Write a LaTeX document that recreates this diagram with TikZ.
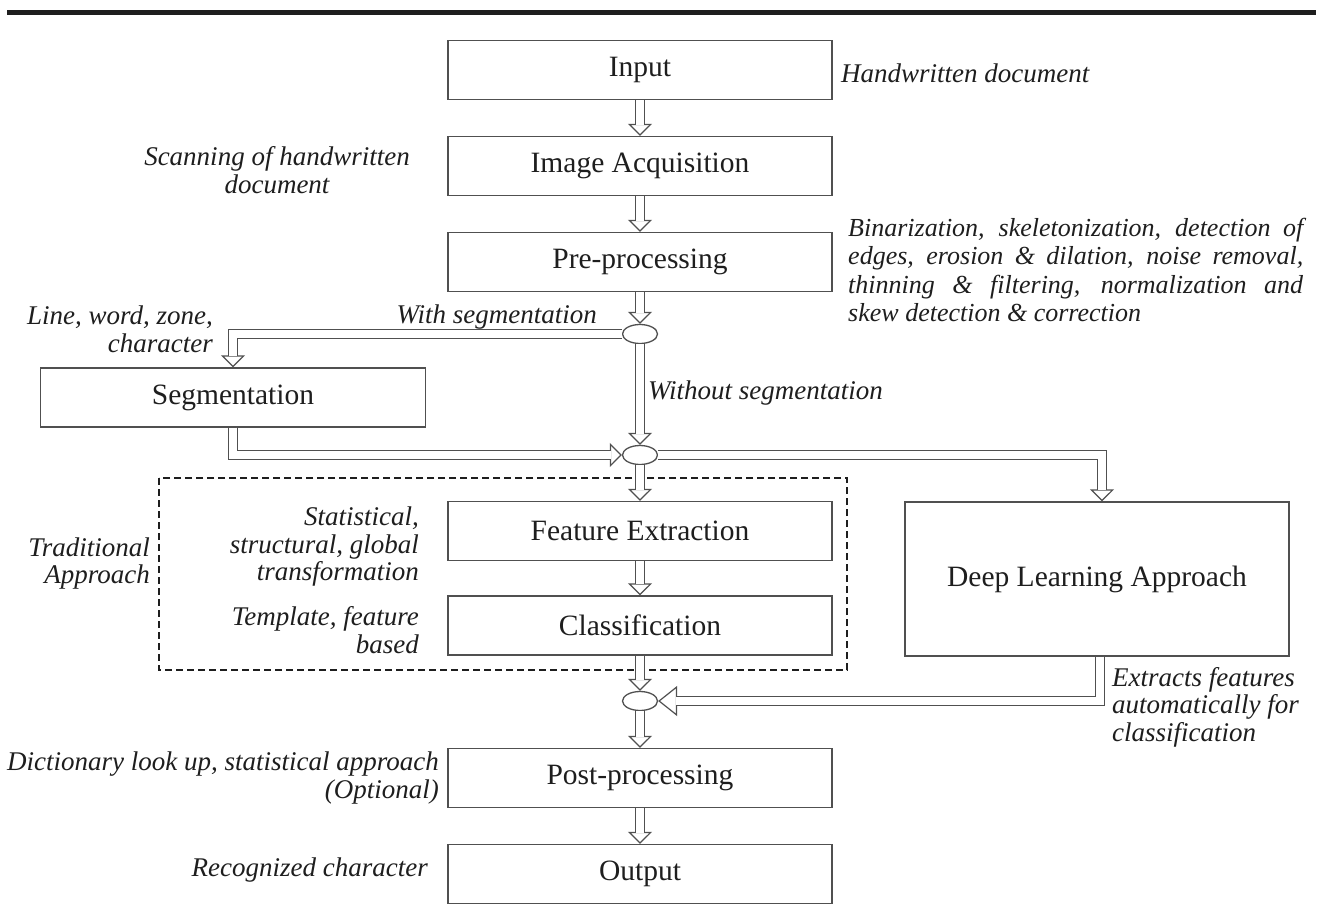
\documentclass[tikz,border=0pt]{standalone}
\usepackage{fontspec}
\setmainfont{Liberation Serif}
\usepackage{tikz}
\usetikzlibrary{arrows.meta, shapes.geometric}

\definecolor{edgegray}{HTML}{505050}
\definecolor{inkgray}{HTML}{1E1E1E}

\begin{document}
\begin{tikzpicture}[x=1pt, y=-1pt,
    box/.style={draw=edgegray, line width=1.3pt, minimum width=384pt, minimum height=59pt, text=inkgray, font=\fontsize{29.5}{34}\selectfont},
    note/.style={text=inkgray, font=\fontsize{27}{27.5}\selectfont\itshape, inner sep=0pt},
    junction/.style={draw=edgegray, fill=white, line width=1.3pt, ellipse, minimum width=35pt, minimum height=19pt, inner sep=0pt},
    shaft/.style={draw=edgegray, -, double=white, double distance=7.5pt, shorten >=#1},
    flow/.style={draw=edgegray, line width=1.2pt, -{Triangle[length=12pt, width=24pt, fill=white]}, postaction={shaft=11pt}},
    bigflow/.style={draw=edgegray, line width=1.2pt, -{Triangle[length=19pt, width=30pt, fill=white]}, postaction={shaft=18pt}}
  ]
    % Canvas
    \fill[white] (0,0) rectangle (1321,904);
    \useasboundingbox (0,0) rectangle (1321,904);

    % Top rule
    \draw[line width=5.5pt, inkgray] (7,12.5) -- (1316,12.5);

    % Draw process boxes
    \node[box] (input) at (640,70) {Input};
    \node[box] (acq) at (640,166) {Image Acquisition};
    \node[box] (pre) at (640,262) {Pre-processing};
    \node[box, minimum width=385pt] (seg) at (233,397.5) {Segmentation};
    \node[box] (feat) at (640,531) {Feature Extraction};
    \node[box] (cls) at (640,625.5) {Classification};
    \node[box, minimum height=154pt] (deep) at (1097,579) {Deep Learning Approach};
    \node[box] (post) at (640,778) {Post-processing};
    \node[box] (out) at (640,874) {Output};

    % Draw junctions
    \node[junction] (j1) at (640,334) {};
    \node[junction] (j2) at (640,455) {};
    \node[junction] (j3) at (640,701) {};

    % Traditional approach frame
    \draw[inkgray, line width=1.6pt, dash pattern=on 7pt off 4pt] (159,478) rectangle (847,670);

    % Draw flow arrows
    \foreach \a/\b in {input/acq, acq/pre, pre/j1, j1/j2, j2/feat, feat/cls, cls/j3, j3/post, post/out}
      \draw[flow] (\a) -- (\b);
    \draw[flow] (j1) -| (seg);
    \draw[flow] (seg) |- (j2);
    \draw[flow] (j2) -| ([xshift=5pt]deep.north);
    \draw[bigflow] ([xshift=3pt]deep.south) |- (j3);

    % Annotations
    \node[note, anchor=west] (inputnote) at (841,73) {Handwritten document};
    \node[note, align=center] (acqnote) at (277,170) {Scanning of handwritten\\document};
    \node[note, anchor=west, text width=455pt, align=justify, font=\fontsize{26}{28.6}\selectfont\itshape] (prenote) at (848,270)
      {Binarization, skeletonization, detection of\linebreak edges, erosion \& dilation, noise removal,\linebreak thinning \& filtering, normalization and\linebreak skew detection \& correction};
    \node[note, anchor=east, align=right] (segnote) at (213,329.5) {Line, word, zone,\\character};
    \node[note, anchor=east] (withnote) at (597,317) {With segmentation};
    \node[note, anchor=west] (withoutnote) at (648,393) {Without segmentation};
    \node[note, anchor=east, align=right] (tradnote) at (150,563.5) {Traditional\\Approach};
    \node[note, anchor=east, align=right] (featnote) at (419,547) {Statistical,\\structural, global\\transformation};
    \node[note, anchor=east, align=right] (clsnote) at (419,630) {Template, feature\\based};
    \node[note, anchor=west, align=left] (deepnote) at (1112,707) {Extracts features\\automatically for\\classification};
    \node[note, anchor=east, align=right] (postnote) at (439,778) {Dictionary look up, statistical approach\\(Optional)};
    \node[note, anchor=east] (outnote) at (428,870) {Recognized character};
\end{tikzpicture}
\end{document}
